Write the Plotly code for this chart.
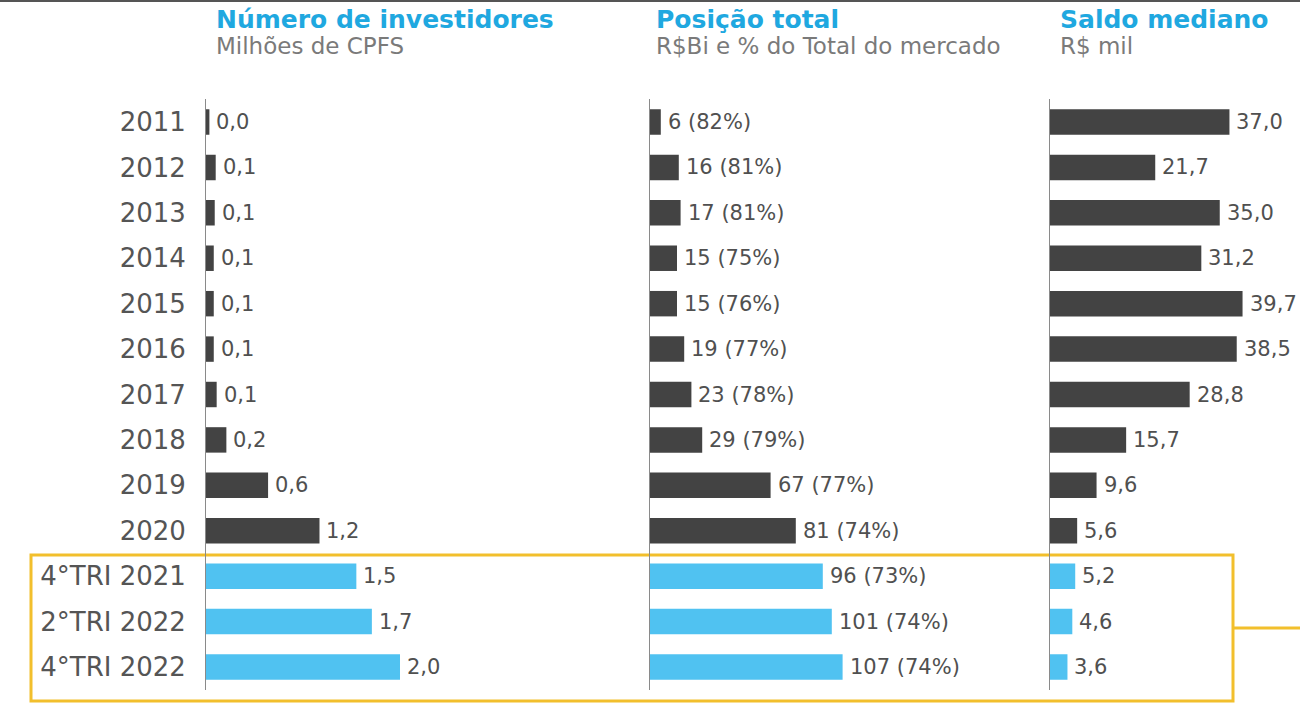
import plotly.graph_objects as go

categories = ["2011", "2012", "2013", "2014", "2015", "2016", "2017", "2018",
              "2019", "2020", "4°TRI 2021", "2°TRI 2022", "4°TRI 2022"]

# Panel 1: Número de investidores (milhões de CPFs)
investidores = [0.035, 0.10, 0.09, 0.08, 0.08, 0.08, 0.11, 0.21, 0.64, 1.17, 1.55, 1.71, 2.0]
investidores_labels = ["0,0", "0,1", "0,1", "0,1", "0,1", "0,1", "0,1", "0,2", "0,6", "1,2", "1,5", "1,7", "2,0"]

# Panel 2: Posição total (R$ bi) and % do total do mercado
posicao = [6, 16, 17, 15, 15, 19, 23, 29, 67, 81, 96, 101, 107]
posicao_pct = [82, 81, 81, 75, 76, 77, 78, 79, 77, 74, 73, 74, 74]

# Panel 3: Saldo mediano (R$ mil)
saldo = [37.0, 21.7, 35.0, 31.2, 39.7, 38.5, 28.8, 15.7, 9.6, 5.6, 5.2, 4.6, 3.6]

titles = ["Número de investidores", "Posição total", "Saldo mediano"]
subtitles = ["Milhões de CPFS", "R$Bi e % do Total do mercado", "R$ mil"]

DARK = "#434343"
BLUE = "#50C2F1"
colors = [DARK] * 10 + [BLUE] * 3

W, H = 1300, 707
FONT = "DejaVu Sans"

posicao_labels = [f"{v} ({p}%)" for v, p in zip(posicao, posicao_pct)]
saldo_labels = [f"{v:.1f}".replace(".", ",") for v in saldo]

fig = go.Figure()
panels = [
    (investidores, investidores_labels, "x", "y"),
    (posicao, posicao_labels, "x2", "y2"),
    (saldo, saldo_labels, "x3", "y3"),
]
for vals, labels, xa, ya in panels:
    fig.add_trace(go.Bar(
        x=vals, y=categories, orientation="h", xaxis=xa, yaxis=ya,
        marker=dict(color=colors, line=dict(width=0)), width=0.56,
        hoverinfo="skip", showlegend=False,
    ))
    for i, (v, lab) in enumerate(zip(vals, labels)):
        fig.add_annotation(
            x=v, y=i, xref=xa, yref=ya, text=lab, showarrow=False,
            xanchor="left", yanchor="middle", xshift=5,
            font=dict(family=FONT, size=21, color="#505050"),
        )

# pixel layout
ytop, ybot = 99.3, 689.7
ydom = [1 - ybot / H, 1 - ytop / H]

def px(x):
    return x / W

x1_0, x1_1, s1 = 206, 640, 97.0
x2_0, x2_1, s2 = 650, 1040, 1.8
x3_0, x3_1, s3 = 1050, 1300, 4.85

common_x = dict(showgrid=False, zeroline=False, showticklabels=False, showline=False, fixedrange=True)
fig.update_layout(
    xaxis=dict(domain=[px(x1_0), px(x1_1)], range=[0, (x1_1 - x1_0) / s1], anchor="y", **common_x),
    xaxis2=dict(domain=[px(x2_0), px(x2_1)], range=[0, (x2_1 - x2_0) / s2], anchor="y2", **common_x),
    xaxis3=dict(domain=[px(x3_0), px(x3_1)], range=[0, (x3_1 - x3_0) / s3], anchor="y3", **common_x),
)
common_y = dict(domain=ydom, range=[12.5, -0.5], type="category", showgrid=False, zeroline=False,
                showline=True, linecolor="#8a8a8a", linewidth=1, ticks="")
fig.update_layout(
    yaxis=dict(anchor="x", showticklabels=True, ticklabelstandoff=14,
               tickfont=dict(family=FONT, size=26, color="#555555"), **common_y),
    yaxis2=dict(anchor="x2", showticklabels=False, **common_y),
    yaxis3=dict(anchor="x3", showticklabels=False, **common_y),
)

# titles
for xpos, t, s in zip([214, 654, 1058], titles, subtitles):
    fig.add_annotation(x=px(xpos), y=1 - 20 / H, xref="paper", yref="paper", text=f"<b>{t}</b>",
                       showarrow=False, xanchor="left", yanchor="middle",
                       font=dict(family=FONT, size=25, color="#1FA8E0"))
    fig.add_annotation(x=px(xpos), y=1 - 46 / H, xref="paper", yref="paper", text=s,
                       showarrow=False, xanchor="left", yanchor="middle",
                       font=dict(family=FONT, size=23, color="#7a7a7a"))

# highlight box
GOLD = "#F2BF2C"
fig.add_shape(type="rect", xref="paper", yref="paper",
              x0=px(31), x1=px(1233), y0=1 - 701 / H, y1=1 - 555 / H,
              line=dict(color=GOLD, width=3), fillcolor="rgba(0,0,0,0)", layer="below")
fig.add_shape(type="line", xref="paper", yref="paper",
              x0=px(1233), x1=1, y0=1 - 628 / H, y1=1 - 628 / H,
              line=dict(color=GOLD, width=3))
# thin top border
fig.add_shape(type="line", xref="paper", yref="paper", x0=0, x1=1, y0=1 - 1 / H, y1=1 - 1 / H,
              line=dict(color="#555555", width=2))

fig.update_layout(
    width=W, height=H, margin=dict(l=0, r=0, t=0, b=0),
    paper_bgcolor="white", plot_bgcolor="white",
    bargap=0.44,
)

fig.write_html("out.html", config={"displayModeBar": False})

# remove default page margin so the figure sits at the window's top-left corner
with open("out.html", "r", encoding="utf-8") as f:
    html = f.read()
html = html.replace("<head>", "<head><style>html,body{margin:0;padding:0;overflow:hidden;}</style>", 1)
with open("out.html", "w", encoding="utf-8") as f:
    f.write(html)
